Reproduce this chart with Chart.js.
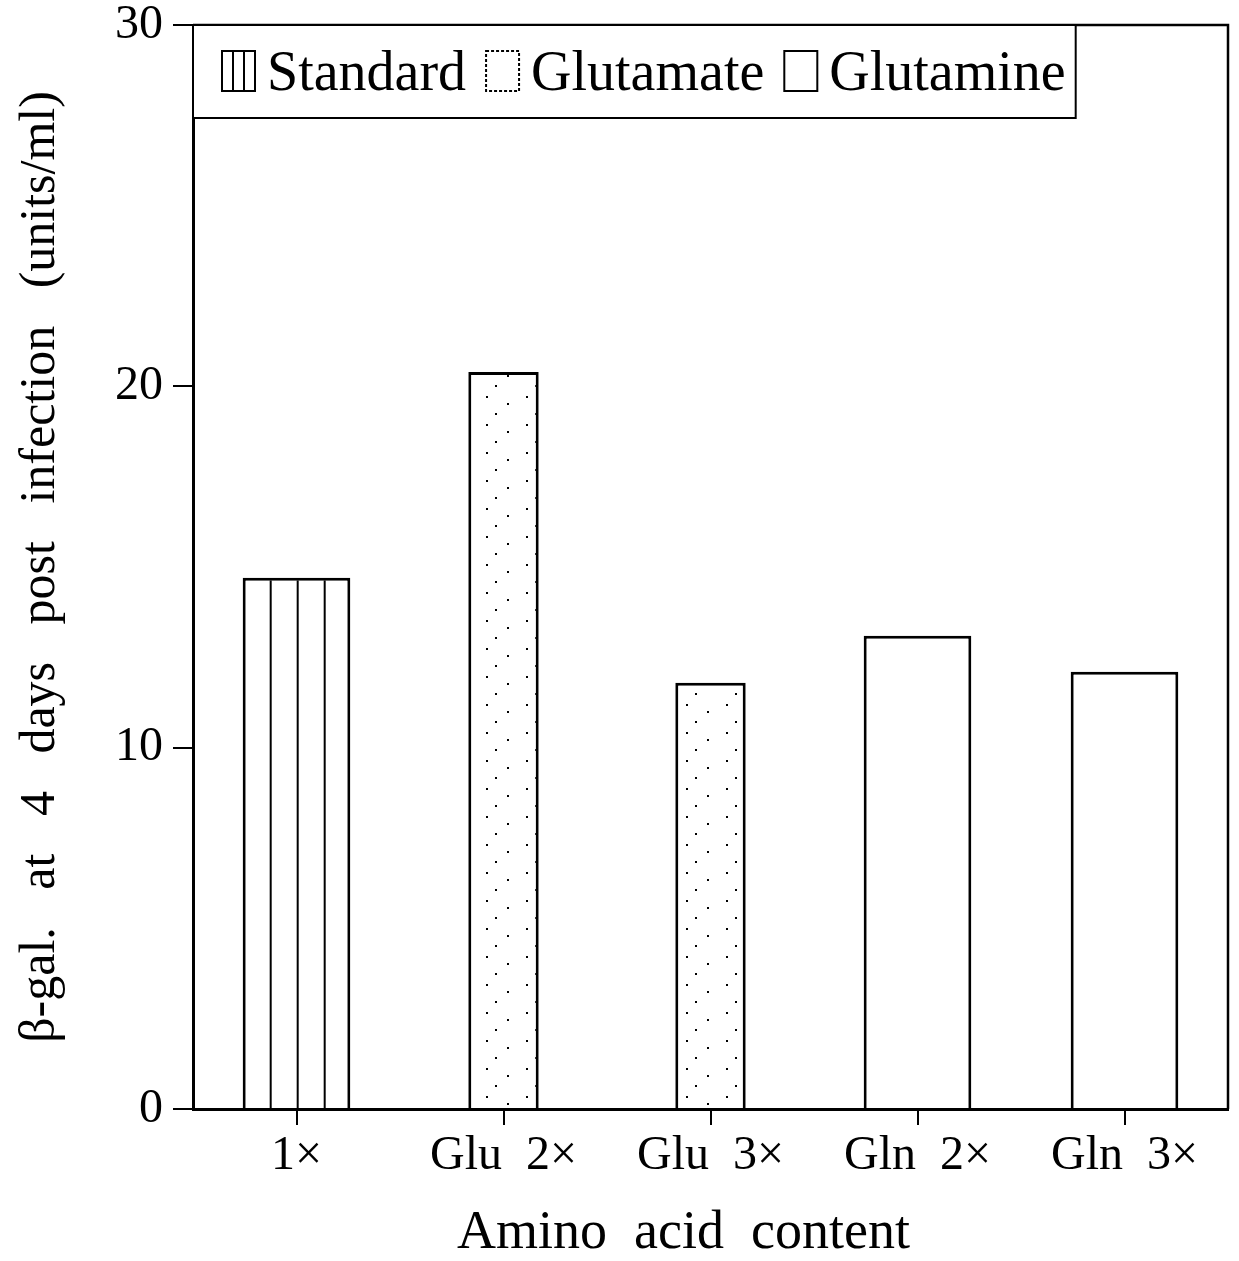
<!DOCTYPE html>
<html lang="en">
  <head>
    <meta charset="UTF-8" />
    <title>β-gal. by amino acid content</title>
    <style>
      html,
      body {
        margin: 0;
        padding: 0;
        background: #fff;
      }
      canvas {
        display: block;
      }
    </style>
  </head>
  <body>
    <canvas id="chart" width="1239" height="1261"></canvas>

    <script src="https://cdn.jsdelivr.net/npm/chart.js"></script>
    <script>
      const categories = ["1×", "Glu  2×", "Glu  3×", "Gln  2×", "Gln  3×"];
      const standard = [14.7, null, null, null, null];
      const glutamate = [null, 20.4, 11.8, null, null];
      const glutamine = [null, null, null, 13.1, 12.1];
      const yTicks = [0, 10, 20, 30];

      const serif = "'Liberation Serif', 'Times New Roman', serif";

      // vertical stripes for the standard bar
      function stripePattern() {
        const c = document.createElement("canvas");
        c.width = 27;
        c.height = 10;
        const g = c.getContext("2d");
        g.fillStyle = "#fff";
        g.fillRect(0, 0, 27, 10);
        g.fillStyle = "#000";
        g.fillRect(0, 0, 2, 10);
        return g.createPattern(c, "repeat");
      }

      // sparse dots for glutamate
      function dotPattern() {
        const c = document.createElement("canvas");
        c.width = 40;
        c.height = 28;
        const g = c.getContext("2d");
        g.fillStyle = "#fff";
        g.fillRect(0, 0, 40, 28);
        g.fillStyle = "#000";
        g.fillRect(6, 4, 2, 2);
        g.fillRect(27, 11, 2, 2);
        g.fillRect(15, 21, 2, 2);
        return g.createPattern(c, "repeat");
      }

      const stripes = stripePattern();
      const dots = dotPattern();

      // line the stripes up with the left edge of the bar
      const alignStripes = {
        id: "alignStripes",
        beforeDatasetsDraw(chart) {
          const bar = chart.getDatasetMeta(0).data[0];
          if (!bar) return;
          const left = bar.x - bar.width / 2;
          stripes.setTransform(new DOMMatrix().translate(left, 0));
        },
      };

      // top and right sides of the frame plus the boxed legend
      const frameAndLegend = {
        id: "frameAndLegend",
        afterDraw(chart) {
          const { ctx, chartArea: a } = chart;
          ctx.save();
          ctx.strokeStyle = "#000";
          ctx.lineWidth = 2.5;
          ctx.beginPath();
          ctx.moveTo(a.left, a.top);
          ctx.lineTo(a.right, a.top);
          ctx.lineTo(a.right, a.bottom);
          ctx.stroke();

          ctx.font = "56px " + serif;
          const iconW = 33;
          const iconH = 40;
          const cy = a.top + 46;
          let x = a.left + 29;
          const items = chart.data.datasets.map((ds) => {
            const w = ctx.measureText(ds.label).width;
            const item = { ds, x, textX: x + iconW + 12 };
            x = item.textX + w + 20;
            return item;
          });
          const boxRight = x - 20 + 10;

          ctx.fillStyle = "#fff";
          ctx.fillRect(a.left, a.top, boxRight - a.left, 93);
          ctx.lineWidth = 2;
          ctx.strokeRect(a.left, a.top, boxRight - a.left, 93);

          items.forEach(({ ds, x, textX }, i) => {
            const y0 = cy - iconH / 2;
            ctx.lineWidth = 2;
            ctx.setLineDash(i === 1 ? [3, 2] : []);
            ctx.strokeRect(x, y0, iconW, iconH);
            ctx.setLineDash([]);
            if (i === 0) {
              ctx.beginPath();
              for (let k = 1; k < 3; k++) {
                const lx = x + (iconW * k) / 3;
                ctx.moveTo(lx, y0);
                ctx.lineTo(lx, y0 + iconH);
              }
              ctx.stroke();
            }
            ctx.fillStyle = "#000";
            ctx.textBaseline = "alphabetic";
            ctx.fillText(ds.label, textX, cy + 19);
          });
          ctx.restore();
        },
      };

      const barStyle = {
        borderColor: "#000",
        borderWidth: 3,
        categoryPercentage: 1,
        grouped: false,
        skipNull: true,
      };

      new Chart(document.getElementById("chart"), {
        type: "bar",
        data: {
          labels: categories,
          datasets: [
            { label: "Standard", data: standard, backgroundColor: stripes, barPercentage: 0.52, ...barStyle },
            { label: "Glutamate", data: glutamate, backgroundColor: dots, barPercentage: 0.34, ...barStyle },
            { label: "Glutamine", data: glutamine, backgroundColor: "#fff", barPercentage: 0.52, ...barStyle },
          ],
        },
        options: {
          responsive: false,
          animation: false,
          layout: { padding: { top: 25, right: 11, bottom: 0, left: 0 } },
          plugins: {
            legend: { display: false },
            tooltip: { enabled: false },
          },
          scales: {
            x: {
              afterFit: (s) => {
                s.height = 152;
              },
              grid: {
                drawOnChartArea: false,
                offset: false,
                tickLength: 16,
                lineWidth: 2,
                color: "#000",
              },
              border: { display: true, color: "#000", width: 3 },
              ticks: {
                color: "#000",
                font: { family: serif, size: 48 },
                padding: 3,
                maxRotation: 0,
                autoSkip: false,
              },
              title: {
                display: true,
                text: "Amino  acid  content    ",
                color: "#000",
                font: { family: serif, size: 54, lineHeight: 1 },
                padding: { top: 0, bottom: 0 },
              },
            },
            y: {
              min: 0,
              max: 30,
              afterBuildTicks: (s) => {
                s.ticks = yTicks.map((v) => ({ value: v }));
              },
              afterFit: (s) => {
                s.width = 193;
                // let the 30 label overhang the top padding
                s.paddingTop = 0;
                s.paddingBottom = 0;
              },
              grid: {
                drawOnChartArea: false,
                tickLength: 20,
                lineWidth: 2,
                color: "#000",
              },
              border: { display: true, color: "#000", width: 3 },
              ticks: {
                color: "#000",
                font: { family: serif, size: 48 },
                padding: 10,
              },
              title: {
                display: true,
                text: "β-gal.   at   4   days   post   infection   (units/ml)",
                color: "#000",
                font: { family: serif, size: 50, lineHeight: 1.2 },
                padding: { top: 11, bottom: 0 },
              },
            },
          },
        },
        plugins: [alignStripes, frameAndLegend],
      });
    </script>
  </body>
</html>
